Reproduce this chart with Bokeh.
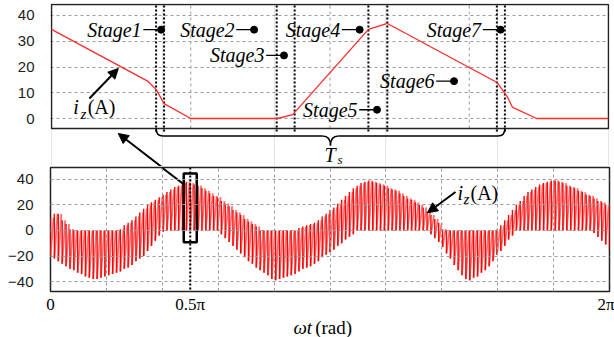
import numpy as np
from bokeh.plotting import figure
from bokeh.layouts import column
from bokeh.models import Range1d, FixedTicker, Span, Label, Arrow, NormalHead
from bokeh.embed import file_html
from bokeh.resources import INLINE

SERIF = "Liberation Serif"
SANS = "Liberation Sans"

# ---- one switching period, zoomed in (time in % of the window, current in A) ----
period_t = [0, 17.35, 18.78, 20.21, 25.0, 40.6, 43.3, 56.9, 60.3, 80.0, 81.8, 82.8, 87.1, 100]
period_i = [34.6, 14.4, 11.3, 5.8, 0, 0, 1.5, 34.6, 36.9, 14.0, 8.5, 4.3, 0, 0]
stage_edges = [18.78, 20.21, 40.43, 43.65, 56.89, 60.29, 79.96, 81.40]
stage_names = ["Stage1", "Stage2", "Stage3", "Stage4", "Stage5", "Stage6", "Stage7"]
stage_dot_t = [19.68, 36.37, 41.74, 55.33, 58.44, 72.27, 80.63]
stage_dot_i = [34.5, 34.5, 24.5, 34.5, 3.4, 14.5, 34.5]
top_ticks = [0, 10, 20, 30, 40]
top_vgrid = [25, 50, 75]

# ---- whole fundamental cycle: peak / valley of every switching period (A) ----
pulse_hi = [10, 13, 13, 8, 5, 1,
            0, 0, 0, 0, 0, 0, 0, 0, 0, 0, 0, 0,
            1, 4, 6, 8, 11, 14, 17, 20, 22, 24, 26, 28, 30, 32, 34, 35, 37, 38,
            37, 36, 35, 33, 31, 29, 27, 26, 23, 21, 19, 16, 14, 12, 9, 7, 5, 3, 0,
            0, 0, 0, 0, 0, 0, 0, 0, 0,
            2, 3, 4, 5, 6, 8, 11, 13, 16, 18, 21, 24, 27, 30, 33, 35, 37, 38, 39,
            38, 37, 36, 35, 33, 32, 31, 29, 27, 25, 24, 22, 20, 18, 15, 12, 9, 6, 1,
            0, 0, 0, 0, 0, 0, 0, 0, 0, 0, 0, 0, 0,
            1, 4, 8, 12, 16, 20, 23, 27, 30, 32, 34, 36, 37, 38, 39, 39,
            38, 37, 35, 34, 33, 31, 30, 28, 27, 25, 23, 22, 20, 18]
pulse_lo = [-20, -22, -24, -26, -28, -30, -31, -33, -34, -36, -37, -38, -38, -37, -36,
            -35, -34, -33, -32, -30, -29, -27, -24, -22, -20, -16, -12, -8, -4, -1,
            0, 0, 0, 0, 0, 0, 0, 0, 0, 0, 0, 0, 0, 0,
            -3, -6, -9, -12, -15, -18, -21, -24, -26, -29, -31, -33, -35, -38, -39, -38,
            -37, -36, -35, -34, -32, -30, -29, -28, -26, -24, -21, -19, -17, -15, -12,
            -10, -7, -5, -3, 0,
            0, 0, 0, 0, 0, 0, 0, 0, 0, 0, 0, 0, 0, 0, 0, 0, 0, 0,
            -3, -6, -9, -13, -18, -22, -27, -31, -35, -38, -39, -37, -36, -33, -31, -28,
            -24, -19, -16, -12, -7, -4, 0,
            0, 0, 0, 0, 0, 0, 0, 0, 0, 0, 0, 0, 0, 0, 0, 0, 0, 0, 0,
            -2, -5, -8, -11, -15]
bottom_ticks = [-40, -20, 0, 20, 40]
wt_ticks = [0, 0.5, 2]                      # in units of pi
wt_labels = {0: "0", 0.5: "0.5π", 2: "2π"}
wt_grid = [0.2, 0.4, 0.6, 0.8, 1.0, 1.2, 1.4, 1.6, 1.8]


def text(fig, x, y, s, size="20px", style="italic", align="left"):
    fig.add_layout(Label(x=x, y=y, text=s, text_font=SERIF, text_font_size=size,
                         text_font_style=style, text_align=align, text_baseline="middle",
                         text_color="black"))


def style_yaxis(fig, ticks, standoff):
    ax = fig.yaxis[0]
    ax.ticker = FixedTicker(ticks=ticks)
    ax.axis_line_color = None
    ax.major_tick_line_color = None
    ax.minor_tick_line_color = None
    ax.major_tick_out = 0
    ax.major_tick_in = 0
    ax.major_label_standoff = standoff
    ax.major_label_text_font = SANS
    ax.major_label_text_font_size = "15px"
    ax.major_label_text_color = "#1c1c1c"
    fig.ygrid.ticker = FixedTicker(ticks=ticks)
    fig.ygrid.grid_line_color = "#9a9a9a"
    fig.ygrid.grid_line_dash = "3 3"


def pointer(fig, x0, y0, x1, y1):
    fig.add_layout(Arrow(end=NormalHead(size=10, fill_color="black", line_color="black"),
                         x_start=x0, y_start=y0, x_end=x1, y_end=y1,
                         line_color="black", line_width=2))


# ================= top panel: one switching period =================
top = figure(width=614, height=166, x_range=Range1d(-0.18, 100.18), y_range=Range1d(-18.64, 44.66),
             x_axis_location=None, toolbar_location=None, output_backend="svg",
             min_border_left=49, min_border_right=4, min_border_top=3, min_border_bottom=0)
top.outline_line_color = None
style_yaxis(top, top_ticks, 16)

box_lo, box_hi = -3.88, 44.27
top.segment(x0=top_vgrid, y0=box_lo, x1=top_vgrid, y1=box_hi,
            line_color="#9a9a9a", line_dash="3 3", line_width=1)
top.quad(left=0, right=100, bottom=box_lo, top=box_hi, fill_color=None,
         line_color="#222222", line_width=1.5)

# stage boundaries
top.segment(x0=stage_edges, y0=-5.0, x1=stage_edges, y1=44.66,
            line_color="black", line_dash="2 2", line_width=2)

top.line(period_t, period_i, line_color="#ff2a2a", line_width=1.3)

# stage callouts
for name, t, i in zip(stage_names, stage_dot_t, stage_dot_i):
    top.segment(x0=[t - 3.2], y0=[i], x1=[t], y1=[i], line_color="black", line_width=1.3)
    text(top, t - 3.5, i, name, align="right")
top.scatter(stage_dot_t, stage_dot_i, size=7, color="black")

# curly brace spanning the switching period Ts
t0, t1 = stage_edges[0], stage_edges[-1]
tm = 0.5 * (t0 + t1)
yb, ytip = -6.80, -10.49
top.quadratic(x0=[t0, t1], y0=[box_lo, box_lo], x1=[t0 + 1.25, t1 - 1.25], y1=[yb, yb],
              cx=[t0, t1], cy=[yb, yb], line_color="black", line_width=1.5)
top.segment(x0=[t0 + 1.25, tm + 1.43], y0=[yb, yb], x1=[tm - 1.43, t1 - 1.25], y1=[yb, yb],
            line_color="black", line_width=1.5)
top.bezier(x0=[tm - 1.43, tm + 1.43], y0=[yb, yb], x1=[tm, tm], y1=[ytip, ytip],
           cx0=[tm - 0.3, tm + 0.3], cy0=[yb, yb], cx1=[tm, tm], cy1=[-8.6, -8.6],
           line_color="black", line_width=1.5)
text(top, 49.02, -14.17, "T", size="20px")
text(top, 51.34, -15.73, "s", size="13px")

# i_z(A) tag
text(top, 3.9, 4.43, "i")
text(top, 5.2, 1.94, "z", size="15px")
text(top, 6.5, 4.43, "(A)", style="normal")
pointer(top, 6.80, 7.77, 11.99, 19.42)
# pointer from the marked period below
pointer(top, 19.68, -18.64, 11.99, -5.83)

# ================= bottom panel: whole fundamental cycle =================
bot = figure(width=614, height=150, x_range=Range1d(0, 2), y_range=Range1d(-47.7, 49.2),
             toolbar_location=None, output_backend="svg",
             min_border_left=50, min_border_right=5, min_border_top=1, min_border_bottom=23)
bot.outline_line_color = "#222222"
bot.outline_line_width = 1.5
style_yaxis(bot, bottom_ticks, 17)

xa = bot.xaxis[0]
xa.ticker = FixedTicker(ticks=wt_ticks, minor_ticks=wt_grid)
xa.major_label_overrides = wt_labels
xa.axis_line_color = None
xa.major_tick_line_color = None
xa.major_tick_out = 0
xa.major_tick_in = 0
xa.minor_tick_line_color = "black"
xa.minor_tick_in = 3
xa.minor_tick_out = 0
xa.major_label_standoff = 3
xa.major_label_text_font = SERIF
xa.major_label_text_font_size = "17px"
xa.major_label_text_color = "black"
bot.xgrid.ticker = FixedTicker(ticks=wt_grid)
bot.xgrid.grid_line_color = "#9a9a9a"
bot.xgrid.grid_line_dash = "3 3"
bot.grid.level = "annotation"

# each switching period: steep edge (bright) followed by a slow ramp (lighter)
wt = np.linspace(0, 2, len(pulse_hi))
dt = wt[1] - wt[0]
bot.segment(x0=wt[:-1] + 0.8 * dt, y0=pulse_hi[:-1], x1=wt[:-1], y1=pulse_lo[:-1],
            line_color="#ff6e6e", line_width=1.8)
bot.segment(x0=wt, y0=pulse_lo, x1=wt, y1=pulse_hi, line_color="#ff0000", line_width=1.4)

bot.add_layout(Span(location=0.5, dimension="height", line_color="black",
                    line_dash="2 2", line_width=2))
bot.quad(left=0.4767, right=0.5233, bottom=-9.2, top=44.6, fill_color=None,
         line_color="black", line_width=2.5)
bot.line([0.3982, 0.4767], [49.2, 36.15], line_color="black", line_width=2)

text(bot, 1.4562, 29.5, "i")
text(bot, 1.4776, 24.6, "z", size="15px")
text(bot, 1.5027, 29.5, "(A)", style="normal")
pointer(bot, 1.4490, 30.0, 1.3488, 13.85)

# ================= x-axis caption =================
cap = figure(width=614, height=21, x_range=bot.x_range, y_range=Range1d(0, 1),
             x_axis_location=None, y_axis_location=None, toolbar_location=None,
             output_backend="svg", min_border_left=50, min_border_right=5,
             min_border_top=0, min_border_bottom=0)
cap.outline_line_color = None
cap.grid.visible = False
text(cap, 0.869, 0.5, "ωt", size="19px")
text(cap, 0.947, 0.5, "(rad)", size="19px", style="normal")

layout = column(top, bot, cap, spacing=0)
open("out.html", "w").write(file_html(layout, INLINE))
